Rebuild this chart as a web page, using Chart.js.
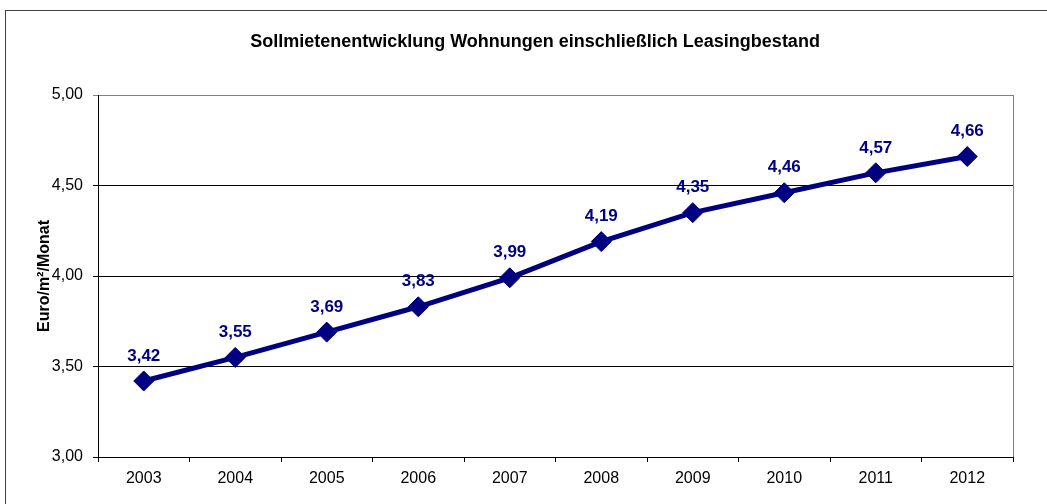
<!DOCTYPE html>
<html>
<head>
<meta charset="utf-8">
<script src="https://cdn.jsdelivr.net/npm/chart.js@4"></script>
<style>
html,body{margin:0;padding:0;background:#fff;}
#wrap{width:1047px;height:504px;position:relative;}
</style>
</head>
<body>
<div id="wrap"><canvas id="c" width="1047" height="504"></canvas></div>
<script>
const titleText = 'Sollmietenentwicklung Wohnungen einschließlich Leasingbestand';
const yAxisTitle = 'Euro/m²/Monat';
const categories = ['2003','2004','2005','2006','2007','2008','2009','2010','2011','2012'];
const rentValues = [3.42, 3.55, 3.69, 3.83, 3.99, 4.19, 4.35, 4.46, 4.57, 4.66];
const yTicks = [3.0, 3.5, 4.0, 4.5, 5.0];

const NAVY = '#000080';
const FONT = "'Liberation Sans', Arial, sans-serif";
const fmt = v => v.toFixed(2).replace('.', ',');

const decor = {
  id: 'decor',
  beforeDraw(chart) {
    const ctx = chart.ctx;
    ctx.save();
    ctx.fillStyle = '#fff';
    ctx.fillRect(0, 0, chart.width, chart.height);
    ctx.strokeStyle = '#404040';
    ctx.lineWidth = 1;
    ctx.strokeRect(5.5, 10.5, chart.width + 10, chart.height + 10);
    // plot border (gray)
    const a = chart.chartArea;
    ctx.strokeStyle = '#808080';
    ctx.strokeRect(a.left + 0.5, a.top + 0.5, a.right - a.left, a.bottom - a.top);
    // title
    ctx.fillStyle = '#000';
    ctx.font = 'bold 18px ' + FONT;
    ctx.textAlign = 'center';
    ctx.textBaseline = 'middle';
    ctx.fillText(titleText, 535, 42);
    // y title
    ctx.translate(45, (a.top + a.bottom) / 2);
    ctx.rotate(-Math.PI / 2);
    ctx.font = 'bold 16px ' + FONT;
    ctx.fillText(yAxisTitle, 0, 0);
    ctx.restore();
  },
  afterDatasetsDraw(chart) {
    const ctx = chart.ctx;
    const meta = chart.getDatasetMeta(0);
    ctx.save();
    ctx.fillStyle = NAVY;
    ctx.font = 'bold 17px ' + FONT;
    ctx.textAlign = 'center';
    ctx.textBaseline = 'middle';
    meta.data.forEach((pt, i) => {
      ctx.fillText(fmt(chart.data.datasets[0].data[i]), pt.x, pt.y - 25);
    });
    ctx.restore();
  }
};

new Chart(document.getElementById('c'), {
  type: 'line',
  data: {
    labels: categories,
    datasets: [{
      data: rentValues,
      borderColor: NAVY,
      backgroundColor: NAVY,
      borderWidth: 5,
      pointStyle: 'rectRot',
      pointRadius: 10,
      pointBorderWidth: 1,
      pointBackgroundColor: NAVY,
      pointBorderColor: NAVY,
      tension: 0,
      fill: false
    }]
  },
  options: {
    responsive: false,
    animation: false,
    devicePixelRatio: 1,
    layout: { padding: { top: 95, right: 34, bottom: 0, left: 0 } },
    plugins: { legend: { display: false }, title: { display: false }, tooltip: { enabled: false } },
    scales: {
      x: {
        offset: true,
        afterFit(s) { s.height = 47; },
        grid: { drawOnChartArea: false, drawTicks: true, tickLength: 5, offset: true, color: '#000' },
        border: { display: true, color: '#000', width: 1 },
        ticks: { color: '#000', font: { family: FONT, size: 16 }, padding: 7, maxRotation: 0 }
      },
      y: {
        min: 3, max: 5,
        afterFit(s) { s.width = 98; },
        afterBuildTicks(s) { s.ticks = yTicks.map(v => ({ value: v })); },
        grid: {
          drawTicks: true, tickLength: 5,
          color: c => (c.tick && c.tick.value === 5) ? '#808080' : '#000',
          lineWidth: 1
        },
        border: { display: true, color: '#000', width: 1 },
        ticks: { color: '#000', font: { family: FONT, size: 16 }, padding: 10, callback: v => fmt(v) }
      }
    }
  },
  plugins: [decor]
});
</script>
</body>
</html>
